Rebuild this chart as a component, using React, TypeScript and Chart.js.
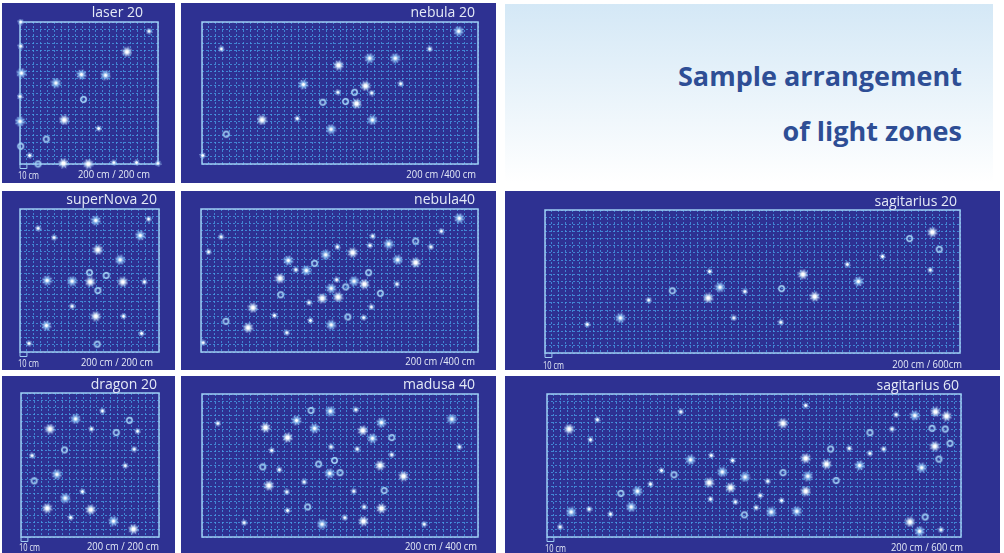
import React, { useEffect, useRef } from "react";
import { Chart, registerables } from "chart.js";
Chart.register(...registerables);

type P = [number, number];

// ---- laser 20 (cm) ----
const laserBig: P[] = [[155, 158], [64, 62], [63, 1], [99, 0]];
const laserStar: P[] = [[2, 128], [89, 126], [124, 125], [52, 114], [0, 60]];
const laserSmall: P[] = [[1, 200], [187, 187], [1, 166], [0, 95], [114, 50], [14, 12], [136, 2], [169, 2], [200, 1]];
const laserRing: P[] = [[92, 91], [38, 35], [1, 25], [26, 0]];

// ---- nebula 20 ----
const neb20Big: P[] = [[198, 139], [237, 110], [224, 85], [87, 62]];
const neb20Star: P[] = [[372, 187], [280, 149], [147, 112], [187, 49], [243, 149], [247, 62]];
const neb20Small: P[] = [[28, 162], [330, 162], [288, 113], [197, 101], [246, 100], [138, 64], [1, 12]];
const neb20Ring: P[] = [[221, 101], [175, 87], [208, 88], [35, 42]];

// ---- superNova 20 ----
const novaBig: P[] = [[112, 143], [101, 98], [148, 98], [109, 50]];
const novaStar: P[] = [[109, 184], [144, 129], [39, 100], [75, 99], [38, 37], [173, 163]];
const novaSmall: P[] = [[185, 186], [26, 173], [49, 160], [179, 98], [75, 64], [149, 50], [175, 26], [13, 12]];
const novaRing: P[] = [[100, 111], [124, 107], [112, 86], [111, 11]];

// ---- nebula40 ----
const neb40Big: P[] = [[219, 139], [310, 125], [114, 103], [236, 95], [175, 75], [198, 77], [75, 62], [68, 34]];
const neb40Star: P[] = [[373, 187], [271, 151], [180, 136], [126, 128], [284, 129], [152, 114], [221, 99], [188, 89], [188, 38]];
const neb40Small: P[] = [[347, 169], [29, 161], [248, 162], [197, 147], [244, 149], [332, 147], [11, 140], [137, 115], [196, 101], [283, 95], [156, 69], [246, 63], [106, 51], [235, 48], [158, 44], [124, 27], [3, 13]];
const neb40Ring: P[] = [[310, 155], [164, 124], [242, 111], [209, 91], [115, 80], [259, 82], [212, 49], [36, 43]];

// ---- sagitarius 20 ----
const sag20Big: P[] = [[560, 169], [373, 110], [236, 77], [390, 79]];
const sag20Star: P[] = [[453, 100], [253, 92], [109, 49]];
const sag20Small: P[] = [[488, 135], [437, 124], [557, 116], [238, 114], [289, 86], [150, 74], [273, 49], [341, 43], [61, 40]];
const sag20Ring: P[] = [[527, 160], [570, 145], [184, 87], [342, 90]];

// ---- dragon 20 ----
const dragonBig: P[] = [[42, 150], [38, 40], [101, 38], [163, 11]];
const dragonStar: P[] = [[79, 164], [52, 87], [64, 54], [134, 22]];
const dragonSmall: P[] = [[118, 175], [102, 150], [169, 147], [164, 122], [16, 113], [151, 99], [89, 63], [72, 27]];
const dragonRing: P[] = [[157, 162], [138, 145], [63, 121], [19, 78]];

// ---- madusa 40 ----
const madusaBig: P[] = [[92, 153], [233, 149], [124, 139], [258, 100], [292, 85], [97, 72], [260, 40], [234, 22]];
const madusaStar: P[] = [[186, 176], [137, 163], [260, 160], [362, 165], [163, 152], [247, 138], [185, 89], [174, 18]];
const madusaSmall: P[] = [[223, 178], [23, 159], [101, 121], [187, 126], [225, 123], [373, 126], [275, 115], [112, 94], [148, 77], [123, 63], [220, 64], [235, 42], [124, 37], [207, 27], [61, 20], [322, 18]];
const madusaRing: P[] = [[158, 177], [275, 139], [192, 107], [169, 102], [88, 98], [200, 90], [264, 65], [153, 42]];

// ---- sagitarius 60 ----
const sag60Big: P[] = [[342, 159], [32, 151], [563, 175], [579, 169], [562, 127], [375, 110], [405, 102], [235, 76], [266, 69], [375, 64], [526, 21]];
const sag60Star: P[] = [[533, 170], [208, 108], [453, 100], [543, 97], [254, 91], [378, 85], [287, 84], [131, 64], [35, 35], [122, 42], [325, 35], [362, 36], [540, 8]];
const sag60Small: P[] = [[375, 184], [194, 175], [73, 164], [506, 171], [500, 151], [63, 136], [438, 124], [488, 123], [468, 117], [238, 114], [269, 107], [166, 93], [320, 78], [150, 74], [309, 58], [237, 53], [273, 49], [340, 51], [61, 39], [92, 32], [303, 41], [571, 10], [19, 14]];
const sag60Ring: P[] = [[558, 152], [577, 151], [468, 146], [584, 131], [411, 123], [568, 109], [184, 87], [342, 90], [419, 79], [107, 61], [286, 31], [548, 28]];

type Sets = { big: P[]; star: P[]; small: P[]; ring: P[] };
type Panel = {
  title: string; label: string; ten: boolean; xMax: number;
  box: [number, number, number, number]; plot: [number, number, number, number];
  titleRight: number; titleY: number; labelRight: number; labelY: number; sets: Sets;
};

const panels: Panel[] = [
  { title: "laser 20", label: "200 cm / 200 cm", ten: true, xMax: 200, box: [2, 3, 175, 183], plot: [20, 22, 158, 164], titleRight: 143, titleY: 13, labelRight: 150, labelY: 175, sets: { big: laserBig, star: laserStar, small: laserSmall, ring: laserRing } },
  { title: "nebula 20", label: "200 cm /400 cm", ten: false, xMax: 400, box: [181, 3, 496, 183], plot: [202, 22, 478, 164], titleRight: 475, titleY: 13, labelRight: 476, labelY: 175, sets: { big: neb20Big, star: neb20Star, small: neb20Small, ring: neb20Ring } },
  { title: "superNova 20", label: "200 cm / 200 cm", ten: true, xMax: 200, box: [2, 191, 175, 370], plot: [20, 209, 159, 352], titleRight: 157, titleY: 200, labelRight: 153, labelY: 363, sets: { big: novaBig, star: novaStar, small: novaSmall, ring: novaRing } },
  { title: "nebula40", label: "200 cm /400 cm", ten: false, xMax: 400, box: [181, 191, 496, 370], plot: [201, 209, 478, 352], titleRight: 475, titleY: 200, labelRight: 475, labelY: 362, sets: { big: neb40Big, star: neb40Star, small: neb40Small, ring: neb40Ring } },
  { title: "sagitarius 20", label: "200 cm / 600cm", ten: true, xMax: 600, box: [505, 191, 1000, 370], plot: [545, 210, 960, 353], titleRight: 957, titleY: 202, labelRight: 962, labelY: 365, sets: { big: sag20Big, star: sag20Star, small: sag20Small, ring: sag20Ring } },
  { title: "dragon 20", label: "200 cm / 200 cm", ten: true, xMax: 200, box: [2, 376, 175, 553], plot: [21, 393, 159, 537], titleRight: 157, titleY: 385, labelRight: 159, labelY: 547, sets: { big: dragonBig, star: dragonStar, small: dragonSmall, ring: dragonRing } },
  { title: "madusa 40", label: "200 cm / 400 cm", ten: false, xMax: 400, box: [181, 376, 496, 553], plot: [202, 394, 478, 537], titleRight: 475, titleY: 385, labelRight: 477, labelY: 547, sets: { big: madusaBig, star: madusaStar, small: madusaSmall, ring: madusaRing } },
  { title: "sagitarius 60", label: "200 cm / 600 cm", ten: true, xMax: 600, box: [505, 376, 1000, 553], plot: [547, 394, 961, 537], titleRight: 959, titleY: 386, labelRight: 963, labelY: 548, sets: { big: sag60Big, star: sag60Star, small: sag60Small, ring: sag60Ring } },
];

const Y_MAX = 200;
const STEP = 10;

function makeSprite(kind: string): HTMLCanvasElement {
  const s = kind === "big" ? 11 : kind === "star" ? 11 : kind === "small" ? 7 : 9;
  const c = document.createElement("canvas");
  c.width = s; c.height = s;
  const g = c.getContext("2d")!;
  const m = s / 2;
  if (kind === "ring") {
    const rg = g.createRadialGradient(m, m, 0, m, m, m);
    rg.addColorStop(0, "rgba(140,200,255,0)");
    rg.addColorStop(0.6, "rgba(140,200,255,0.3)");
    rg.addColorStop(1, "rgba(140,200,255,0)");
    g.fillStyle = rg; g.fillRect(0, 0, s, s);
    g.beginPath(); g.arc(m, m, 2.7, 0, Math.PI * 2);
    g.strokeStyle = "rgba(165,210,245,1)"; g.lineWidth = 1.4; g.stroke();
    return c;
  }
  const cfg = kind === "big"
    ? { core: 0.28, mid: "rgba(215,238,255,0.7)", r0: 2.5, r1: 5.4, rays: 8, ray: "rgba(215,235,255,0.6)" }
    : kind === "star"
    ? { core: 0.17, mid: "rgba(130,190,245,0.75)", r0: 2.2, r1: 5.2, rays: 8, ray: "rgba(190,225,255,0.65)" }
    : { core: 0.28, mid: "rgba(150,200,250,0.6)", r0: 1.3, r1: 3.4, rays: 6, ray: "rgba(200,225,255,0.5)" };
  g.strokeStyle = cfg.ray; g.lineWidth = 1;
  for (let i = 0; i < cfg.rays; i++) {
    const a = (i / cfg.rays) * Math.PI * 2 + 0.3;
    g.beginPath();
    g.moveTo(m + Math.cos(a) * cfg.r0, m + Math.sin(a) * cfg.r0);
    g.lineTo(m + Math.cos(a) * cfg.r1, m + Math.sin(a) * cfg.r1);
    g.stroke();
  }
  const rg = g.createRadialGradient(m, m, 0, m, m, m);
  rg.addColorStop(0, "rgba(255,255,255,1)");
  rg.addColorStop(cfg.core, "rgba(255,255,255,1)");
  rg.addColorStop(0.5, cfg.mid);
  rg.addColorStop(1, "rgba(120,170,240,0)");
  g.fillStyle = rg;
  g.beginPath(); g.arc(m, m, m, 0, Math.PI * 2); g.fill();
  return c;
}

function PanelChart({ p }: { p: Panel }) {
  const ref = useRef<HTMLCanvasElement>(null);
  useEffect(() => {
    const [bl, bt, br, bb] = p.box;
    const [pl, pt, pr, pb] = p.plot;
    const sprites: Record<string, HTMLCanvasElement> = {
      big: makeSprite("big"), star: makeSprite("star"), small: makeSprite("small"), ring: makeSprite("ring"),
    };
    const kinds: (keyof Sets)[] = ["ring", "small", "star", "big"];
    const datasets = kinds.map((k) => ({
      label: k,
      data: p.sets[k].map(([x, y]) => ({ x, y })),
      pointStyle: sprites[k] as any,
      pointRadius: 5,
      showLine: false,
      clip: false as any,
    }));
    const framePlugin = {
      id: "frame",
      beforeDatasetsDraw(chart: any) {
        const { ctx, chartArea: a } = chart;
        ctx.save();
        ctx.strokeStyle = "#9fcdf2";
        ctx.lineWidth = 1.5;
        ctx.strokeRect(a.left, a.top, a.right - a.left, a.bottom - a.top);
        ctx.restore();
      },
    };
    const textPlugin = {
      id: "texts",
      afterDraw(chart: any) {
        const { ctx } = chart;
        const xs = chart.scales.x, ys = chart.scales.y;
        ctx.save();
        ctx.fillStyle = "#e4eaf6";
        ctx.textBaseline = "middle";
        ctx.textAlign = "right";
        ctx.font = "14px 'Open Sans'";
        ctx.fillText(p.title, p.titleRight - bl, p.titleY - bt);
        ctx.save();
        ctx.translate(p.labelRight - bl, p.labelY - bt);
        ctx.scale(0.82, 1);
        ctx.font = "11.5px 'Open Sans'";
        ctx.fillText(p.label, 0, 0);
        ctx.restore();
        if (p.ten) {
          const x0 = xs.getPixelForValue(0), x1 = xs.getPixelForValue(STEP);
          const yb = ys.getPixelForValue(0);
          ctx.strokeStyle = "#9fcdf2"; ctx.lineWidth = 1;
          ctx.beginPath();
          ctx.moveTo(x0, yb); ctx.lineTo(x0, yb + 4.5); ctx.lineTo(x1, yb + 4.5); ctx.lineTo(x1, yb);
          ctx.stroke();
          ctx.save();
          ctx.translate(x0 - 2, p.labelY - bt + 1);
          ctx.scale(0.65, 1);
          ctx.textAlign = "left";
          ctx.font = "11.5px 'Open Sans'";
          ctx.fillText("10 cm", 0, 0);
          ctx.restore();
        }
        ctx.restore();
      },
    };
    const axis = (max: number) => ({
      type: "linear" as const,
      min: 0, max,
      ticks: { display: false, stepSize: STEP, maxTicksLimit: 1000 },
      grid: { color: "rgba(72,162,232,0.75)", lineWidth: 1, drawTicks: false, tickLength: 0 },
      border: { display: false, dash: [2, 2] },
    });
    const chart = new Chart(ref.current!, {
      type: "scatter",
      data: { datasets: datasets as any },
      options: {
        animation: false,
        responsive: false,
        events: [],
        layout: { padding: { left: pl - bl, top: pt - bt, right: br - pr, bottom: bb - pb } },
        plugins: { legend: { display: false }, tooltip: { enabled: false } },
        scales: { x: axis(p.xMax), y: axis(Y_MAX) } as any,
      },
      plugins: [framePlugin, textPlugin],
    });
    return () => chart.destroy();
  }, [p]);
  const [bl, bt, br, bb] = p.box;
  return (
    <div style={{ position: "absolute", left: bl, top: bt, width: br - bl, height: bb - bt, background: "#2e3192" }}>
      <canvas ref={ref} width={br - bl} height={bb - bt} style={{ display: "block" }} />
    </div>
  );
}

export default function App() {
  return (
    <div style={{ position: "fixed", left: 0, top: 0, width: 1004, height: 553, background: "#ffffff", overflow: "hidden", fontFamily: "'Open Sans', sans-serif" }}>
      {panels.map((p) => <PanelChart key={p.title} p={p} />)}
      <div style={{ position: "absolute", left: 505, top: 4, width: 488, height: 179, background: "linear-gradient(#d4e8f6, #ffffff)" }}>
        <div style={{ position: "absolute", right: 31, top: 58, fontWeight: 700, fontSize: 27, color: "#2e4e95", lineHeight: "28px", whiteSpace: "nowrap" }}>Sample arrangement</div>
        <div style={{ position: "absolute", right: 31, top: 113, fontWeight: 700, fontSize: 27, color: "#2e4e95", lineHeight: "28px", whiteSpace: "nowrap" }}>of light zones</div>
      </div>
    </div>
  );
}
